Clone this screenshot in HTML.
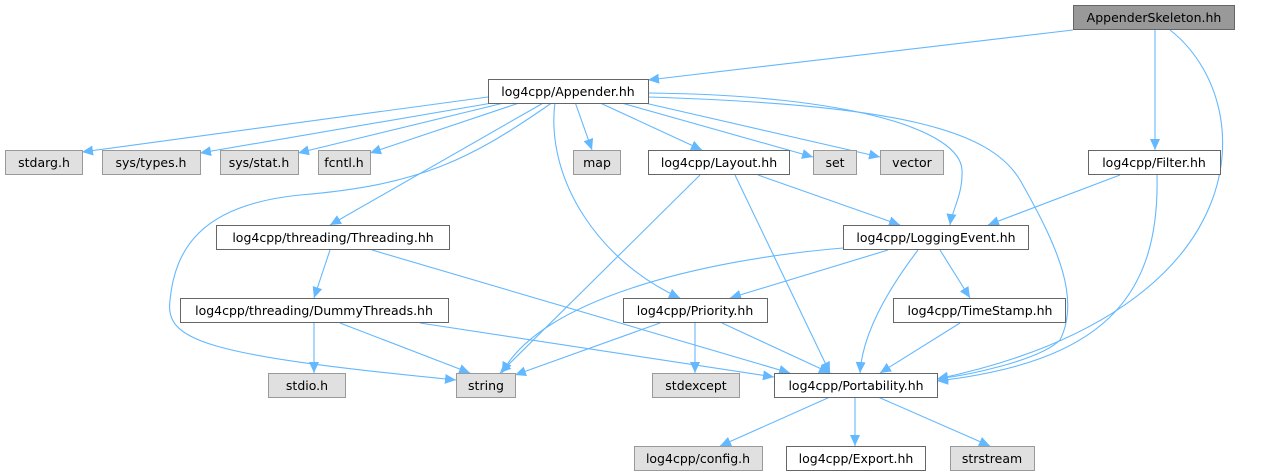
<!DOCTYPE html>
<html><head><meta charset="utf-8"><style>
html,body{margin:0;padding:0;background:#fff;}
svg{display:block;}
text{font-family:"DejaVu Sans","Liberation Sans",sans-serif;font-size:12.5px;fill:#000;text-anchor:middle;}
.e{fill:none;stroke:#63b8ff;stroke-width:1.1;marker-end:url(#a);}
</style></head><body>
<svg width="1263" height="476" viewBox="0 0 1263 476" xmlns="http://www.w3.org/2000/svg">
<defs><marker id="a" markerUnits="userSpaceOnUse" markerWidth="12" markerHeight="10" refX="11" refY="5" orient="auto"><path d="M0,0 L11,5 L0,10 Z" fill="#63b8ff"/></marker></defs>
<g>
<path class="e" d="M1073,30 L648,80"/>
<path class="e" d="M1155,30 L1155,150"/>
<path class="e" d="M1170,30 C1260,100 1265,310 937,379"/>
<path class="e" d="M488,97 L82,152"/>
<path class="e" d="M498,102 L200,153"/>
<path class="e" d="M508,102 L298,153"/>
<path class="e" d="M522,102 L370,153"/>
<path class="e" d="M575,102 L592,150"/>
<path class="e" d="M598,102 L702,150"/>
<path class="e" d="M618,102 L813,157"/>
<path class="e" d="M636,101 L880,157"/>
<path class="e" d="M648,93 C850,95 960,130 962,170 C963,195 952,210 950,225"/>
<path class="e" d="M648,97 C900,105 990,130 1020,180 C1060,250 1080,300 1060,340 C1040,360 970,375 937,379"/>
<path class="e" d="M555,102 C545,180 600,262 680,298"/>
<path class="e" d="M545,102 L330,225"/>
<path class="e" d="M553,102 C470,160 420,185 300,195 C200,205 175,250 170,300 C165,340 200,355 456,380"/>
<path class="e" d="M700,175 L500,373"/>
<path class="e" d="M735,175 L830,373"/>
<path class="e" d="M758,175 L900,225"/>
<path class="e" d="M1120,175 L988,225"/>
<path class="e" d="M1157,175 C1160,300 1100,362 937,381"/>
<path class="e" d="M330,250 L314,298"/>
<path class="e" d="M372,250 L790,373"/>
<path class="e" d="M843,248 C700,260 540,300 502,373"/>
<path class="e" d="M888,250 L730,298"/>
<path class="e" d="M918,250 C880,300 862,340 860,373"/>
<path class="e" d="M940,250 L970,298"/>
<path class="e" d="M314,323 L314,373"/>
<path class="e" d="M340,323 L470,373"/>
<path class="e" d="M420,323 L774,377"/>
<path class="e" d="M660,323 L515,375"/>
<path class="e" d="M695,323 L695,373"/>
<path class="e" d="M722,323 L830,373"/>
<path class="e" d="M960,323 L880,373"/>
<path class="e" d="M830,397 L720,446"/>
<path class="e" d="M855,397 L855,446"/>
<path class="e" d="M878,397 L990,446"/>
</g>
<g stroke-width="1">
<rect x="1073.5" y="5.5" width="161" height="24" fill="#999" stroke="#666"/><text x="1154" y="22">AppenderSkeleton.hh</text>
<rect x="488.5" y="79.5" width="160" height="24" fill="#fff" stroke="#666"/><text x="568" y="96">log4cpp/Appender.hh</text>
<rect x="5.5" y="150.5" width="77" height="24" fill="#e0e0e0" stroke="#999"/><text x="44" y="167">stdarg.h</text>
<rect x="102.5" y="150.5" width="98" height="24" fill="#e0e0e0" stroke="#999"/><text x="151" y="167">sys/types.h</text>
<rect x="220.5" y="150.5" width="78" height="24" fill="#e0e0e0" stroke="#999"/><text x="259" y="167">sys/stat.h</text>
<rect x="318.5" y="150.5" width="52" height="24" fill="#e0e0e0" stroke="#999"/><text x="344" y="167">fcntl.h</text>
<rect x="573.5" y="150.5" width="47" height="24" fill="#e0e0e0" stroke="#999"/><text x="597" y="167">map</text>
<rect x="648.5" y="150.5" width="141" height="24" fill="#fff" stroke="#666"/><text x="719" y="167">log4cpp/Layout.hh</text>
<rect x="813.5" y="150.5" width="43" height="24" fill="#e0e0e0" stroke="#999"/><text x="835" y="167">set</text>
<rect x="880.5" y="150.5" width="63" height="24" fill="#e0e0e0" stroke="#999"/><text x="912" y="167">vector</text>
<rect x="1088.5" y="150.5" width="132" height="24" fill="#fff" stroke="#666"/><text x="1154" y="167">log4cpp/Filter.hh</text>
<rect x="216.5" y="225.5" width="233" height="24" fill="#fff" stroke="#666"/><text x="333" y="242">log4cpp/threading/Threading.hh</text>
<rect x="843.5" y="225.5" width="185" height="24" fill="#fff" stroke="#666"/><text x="936" y="242">log4cpp/LoggingEvent.hh</text>
<rect x="180.5" y="298.5" width="268" height="24" fill="#fff" stroke="#666"/><text x="314" y="315">log4cpp/threading/DummyThreads.hh</text>
<rect x="623.5" y="298.5" width="144" height="24" fill="#fff" stroke="#666"/><text x="695" y="315">log4cpp/Priority.hh</text>
<rect x="893.5" y="298.5" width="172" height="24" fill="#fff" stroke="#666"/><text x="980" y="315">log4cpp/TimeStamp.hh</text>
<rect x="268.5" y="373.5" width="77" height="24" fill="#e0e0e0" stroke="#999"/><text x="307" y="390">stdio.h</text>
<rect x="456.5" y="373.5" width="59" height="24" fill="#e0e0e0" stroke="#999"/><text x="486" y="390">string</text>
<rect x="652.5" y="373.5" width="87" height="24" fill="#e0e0e0" stroke="#999"/><text x="696" y="390">stdexcept</text>
<rect x="774.5" y="373.5" width="163" height="24" fill="#fff" stroke="#666"/><text x="856" y="390">log4cpp/Portability.hh</text>
<rect x="634.5" y="446.5" width="128" height="24" fill="#e0e0e0" stroke="#999"/><text x="698" y="463">log4cpp/config.h</text>
<rect x="786.5" y="446.5" width="139" height="24" fill="#fff" stroke="#666"/><text x="856" y="463">log4cpp/Export.hh</text>
<rect x="950.5" y="446.5" width="84" height="24" fill="#e0e0e0" stroke="#999"/><text x="992" y="463">strstream</text>
</g>
</svg>
</body></html>
